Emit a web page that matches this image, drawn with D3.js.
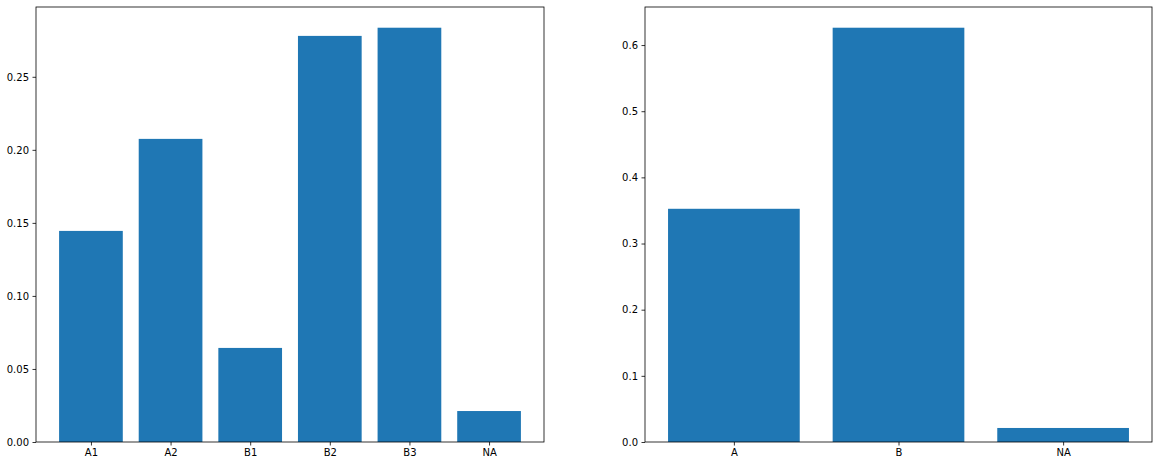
<!DOCTYPE html>
<html>
<head>
<meta charset="utf-8">
<script src="https://cdn.jsdelivr.net/npm/d3@7"></script>
<style>
  body { margin: 0; background: #fff; }
  svg { display: block; }
  .tick text { font-family: "DejaVu Sans", sans-serif; font-size: 10px; fill: #000; }
</style>
</head>
<body>
<div id="chart"></div>
<script>
// left panel: sub-categories
const subCategories = ["A1", "A2", "B1", "B2", "B3", "NA"];
const subValues = [0.1445, 0.2075, 0.0644, 0.2780, 0.2836, 0.0212];
const subTicks = [0.00, 0.05, 0.10, 0.15, 0.20, 0.25];

// right panel: main categories
const mainCategories = ["A", "B", "NA"];
const mainValues = [0.3525, 0.6262, 0.0212];
const mainTicks = [0.0, 0.1, 0.2, 0.3, 0.4, 0.5, 0.6];

const width = 1159, height = 466;
const barColor = "#1f77b4";

const svg = d3.select("#chart").append("svg")
    .attr("width", width)
    .attr("height", height);

//draw one matplotlib-like bar panel
function drawPanel(box, cats, vals, ticks, fmt){
    const n = cats.length;
    const margin = 0.05*(n - 0.2);

    const x = d3.scaleLinear()
        .domain([-0.4 - margin, n - 0.6 + margin])
        .range([box.x, box.x + box.w]);

    const y = d3.scaleLinear()
        .domain([0, d3.max(vals)*1.05])
        .range([box.y + box.h, box.y]);

    const g = svg.append("g");

    g.selectAll(".bar")
        .data(vals)
        .enter()
        .append("rect")
        .attr("class", "bar")
        .attr("x", (d, i) => x(i - 0.4))
        .attr("width", (d, i) => x(i + 0.4) - x(i - 0.4))
        .attr("y", d => y(d))
        .attr("height", d => y(0) - y(d))
        .attr("fill", barColor);

    // y axis
    const yAxis = d3.axisLeft(y)
        .tickValues(ticks)
        .tickFormat(d3.format(fmt))
        .tickSize(3.5)
        .tickPadding(3.5);
    g.append("g")
        .attr("transform", `translate(${box.x},0)`)
        .call(yAxis)
        .call(a => a.select(".domain").remove());

    // x axis
    const xAxis = d3.axisBottom(x)
        .tickValues(d3.range(n))
        .tickFormat(i => cats[i])
        .tickSize(3.5)
        .tickPadding(3.5);
    g.append("g")
        .attr("transform", `translate(0,${box.y + box.h})`)
        .call(xAxis)
        .call(a => a.select(".domain").remove());

    g.selectAll(".tick line").attr("stroke", "#000").attr("stroke-width", 0.8);

    // frame
    g.append("rect")
        .attr("x", box.x)
        .attr("y", box.y)
        .attr("width", box.w)
        .attr("height", box.h)
        .attr("fill", "none")
        .attr("stroke", "#000")
        .attr("stroke-width", 0.8);
}

drawPanel({x: 36, y: 7, w: 508, h: 435}, subCategories, subValues, subTicks, ".2f");
drawPanel({x: 645, y: 7, w: 507, h: 435}, mainCategories, mainValues, mainTicks, ".1f");
</script>
</body>
</html>
